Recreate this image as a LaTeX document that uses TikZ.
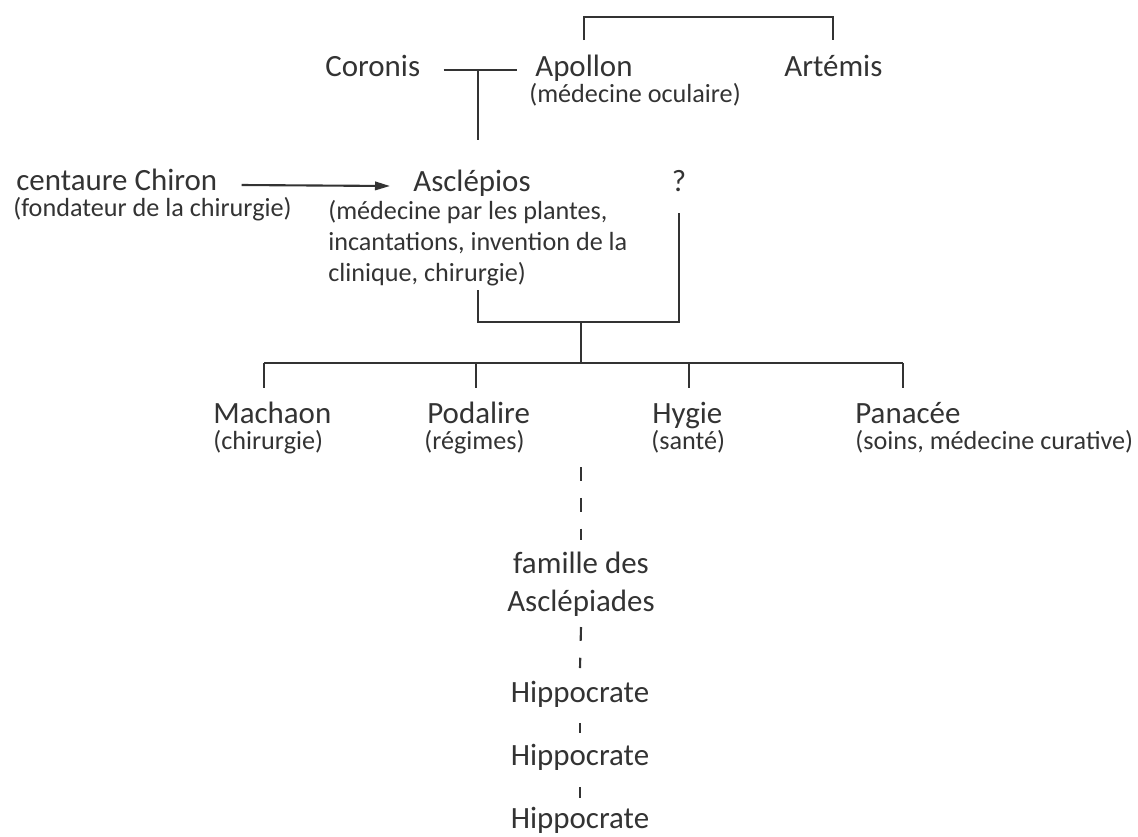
\documentclass[tikz,border=0pt]{standalone}
\usepackage{fontspec}
\setmainfont{Carlito}
\usepackage{xcolor}
\usepackage{tikz}
\usetikzlibrary{arrows.meta,calc,positioning}
\definecolor{gink}{HTML}{333333}
\tikzset{
  >={Triangle[length=0.3cm, width=0.17cm]},
  glink/.style={draw=gink, line width=1.2pt},
  garrow/.style={->, draw=gink, fill=gink, line width=1.2pt},
  gline/.style={draw=gink, line width=1.2pt, dash pattern=on 7.9pt off 9.6pt},
  gname/.style={font=\fontsize{17.6}{21.5}\selectfont, text=gink,
                inner sep=0pt, anchor=base west},
  gnote/.style={font=\fontsize{14.9}{17.6}\selectfont, text=gink,
                inner sep=0pt, anchor=base west, align=left},
}

\begin{document}
\begin{tikzpicture}[x=0.02cm,y=-0.02cm]
  \useasboundingbox (0,0) rectangle (1138,836);

  % parents
  \node[gname] (coronis)   at (325,76)  {Coronis};
  \node[gname] (apollon)   at (535,76)  {Apollon};
  \node[gnote] (apollonsub) at (529,102) {(médecine oculaire)};
  \node[gname] (artemis)   at (784,76)  {Artémis};

  \node[gname] (chiron)    at (16,190)  {centaure Chiron};
  \node[gnote] (chironsub) at (13,216)  {(fondateur de la chirurgie)};
  \node[gname] (asclepios) at (413,191) {Asclépios};
  \node[gnote] (asclsub)   at (328,281)
    {(médecine par les plantes,\\incantations, invention de la\\clinique, chirurgie)};
  \node[gname, anchor=base] (unknown) at (679,191) {?};

  % children
  \node[gname] (machaon)  at (213,423) {Machaon};
  \node[gnote] (machsub)  at (213,449) {(chirurgie)};
  \node[gname] (podalire) at (427,423) {Podalire};
  \node[gnote] (podasub)  at (424,449) {(régimes)};
  \node[gname] (hygie)    at (652,423) {Hygie};
  \node[gnote] (hygiesub) at (651,449) {(santé)};
  \node[gname] (panacee)  at (855,423) {Panacée};
  \node[gnote] (panasub)  at (855,449) {(soins, médecine curative)};

  % descendants
  \node[gname, anchor=base, align=center] (famille) at (581,611) {famille des\\Asclépiades};
  \node[gname, anchor=base] (hippo1) at (580,702) {Hippocrate};
  \node[gname, anchor=base] (hippo2) at (580,765) {Hippocrate};
  \node[gname, anchor=base] (hippo3) at (580,828) {Hippocrate};

  % Apollon et Artémis
  \draw[glink] ($(apollon.base)+(0,-36)$) -- ++(0,-23) -| ($(artemis.base)+(0,-36)$);

  % Coronis et Apollon
  \coordinate (wed) at ($(coronis.base east)!0.5!(apollon.base west)+(0,-6)$);
  \draw[glink] ($(coronis.base east)+(23,-6)$) -- ($(apollon.base west)+(-18,-6)$);
  \draw[glink] (wed) -- ($(wed |- asclepios.base)+(0,-51)$);

  \draw[garrow] ($(chiron.base east)+(24,-5)$) -- ($(asclepios.base west)+(-23,-5)$);

  % Asclépios et ?
  \coordinate (union) at (581,322);
  \coordinate (fam) at (581,363);
  \draw[glink] ($(unknown.base)+(0,22)$) |- (wed |- union) -- ++(0,-32);
  \draw[glink] (union) -- (fam);
  \draw[glink] (264,363) -- (903,363);
  \foreach \x in {264,476,689,903}
    \draw[glink] (\x,363) -- (\x,388);

  % lignée
  \coordinate (heir) at (581,467);
  \draw[gline] (heir) -- ($(famille.base)+(0,-71)$);
  \draw[gline] ($(famille.base)+(0,16)$) -- ($(hippo1.base)+(0,-34)$);
  \draw[gline] ($(hippo1.base)+(0,21)$) -- ($(hippo2.base)+(0,-32)$);
  \draw[gline] ($(hippo2.base)+(0,22)$) -- ($(hippo3.base)+(0,-30)$);

\end{tikzpicture}
\end{document}
